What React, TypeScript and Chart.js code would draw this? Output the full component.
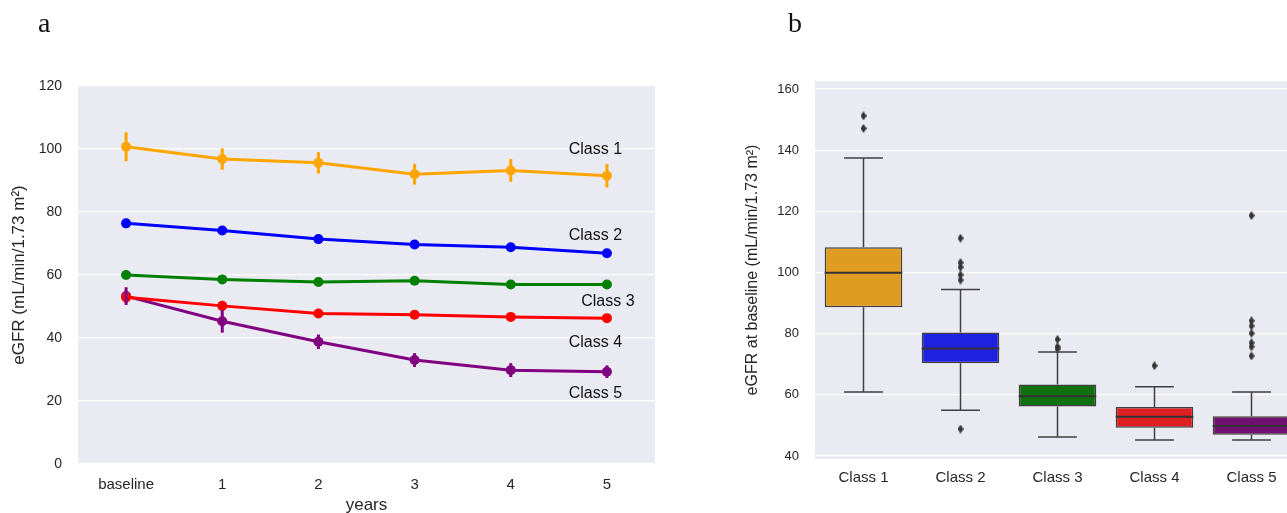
import React, { useEffect, useRef } from 'react';
import { Chart, registerables } from 'chart.js';

Chart.register(...registerables);

// ---------- Panel a: eGFR trajectories ----------
const years = ['baseline', '1', '2', '3', '4', '5'];
const classNames = ['Class 1', 'Class 2', 'Class 3', 'Class 4', 'Class 5'];
const lineColors = ['#FFA500', '#0000FF', '#008000', '#FF0000', '#800080'];

const class1 = [100.7, 96.8, 95.6, 92.0, 93.2, 91.5];
const class1Err = [4.6, 3.4, 3.4, 3.3, 3.6, 3.7];
const class2 = [76.4, 74.1, 71.4, 69.7, 68.8, 66.9];
const class2Err = [1.4, 1.0, 1.0, 1.0, 1.0, 1.3];
const class3 = [60.0, 58.6, 57.8, 58.2, 57.0, 57.0];
const class3Err = [0.8, 0.8, 0.8, 0.8, 0.8, 0.8];
const class4 = [52.9, 50.2, 47.8, 47.4, 46.7, 46.3];
const class4Err = [1.7, 1.0, 1.0, 0.9, 0.9, 0.9];
const class5 = [53.3, 45.3, 38.8, 33.0, 29.8, 29.3];
const class5Err = [2.8, 3.6, 2.3, 2.2, 2.2, 2.0];

const lineTicks = [0, 20, 40, 60, 80, 100, 120];

// text annotations (category position, value)
const labelX = [4.88, 4.88, 5.01, 4.88, 4.88];
const labelY = [99.7, 72.4, 51.4, 38.4, 22.5];

// ---------- Panel b: eGFR at baseline box plot ----------
const boxColors = ['#DF9C20', '#2020DF', '#107010', '#DF2020', '#701070'];
const q1 = [88.6, 70.3, 56.2, 49.2, 46.9];
const median = [99.9, 75.1, 59.5, 52.8, 49.8];
const q3 = [108.2, 80.4, 63.4, 56.0, 53.0];
const whiskerLow = [60.9, 54.9, 46.2, 45.2, 45.2];
const whiskerHigh = [137.4, 94.4, 74.0, 62.6, 60.9];
const outliers1 = [151.2, 147.1];
const outliers2 = [111.2, 103.2, 101.7, 99.2, 97.5, 48.8];
const outliers3 = [78.1, 75.7, 75.0];
const outliers4 = [69.5];
const outliers5 = [118.6, 84.2, 82.5, 80.1, 77.0, 75.7, 72.7];
const boxTicks = [40, 60, 80, 100, 120, 140, 160];

const FONT = "'Liberation Sans', Arial, Helvetica, sans-serif";
const TEXT = '#262626';
const BG = '#EAEAF2';

const bgPlugin = {
  id: 'plotBg',
  beforeDraw(chart: any) {
    const { ctx, chartArea: a } = chart;
    ctx.save();
    ctx.fillStyle = BG;
    ctx.fillRect(a.left, a.top, a.right - a.left, a.bottom - a.top);
    ctx.restore();
  },
};

function makeThinDiamond(): HTMLCanvasElement {
  const c = document.createElement('canvas');
  c.width = 6;
  c.height = 9;
  const g = c.getContext('2d') as CanvasRenderingContext2D;
  g.fillStyle = '#333333';
  g.beginPath();
  g.moveTo(3, 0);
  g.lineTo(6, 4.5);
  g.lineTo(3, 9);
  g.lineTo(0, 4.5);
  g.closePath();
  g.fill();
  return c;
}

function LineChart() {
  const ref = useRef<HTMLCanvasElement>(null);
  useEffect(() => {
    const series = [class1, class2, class3, class4, class5];
    const errs = [class1Err, class2Err, class3Err, class4Err, class5Err];

    const errPlugin = {
      id: 'errBars',
      afterDatasetsDraw(chart: any) {
        const { ctx } = chart;
        const xs = chart.scales.x;
        const ys = chart.scales.y;
        ctx.save();
        ctx.lineWidth = 3;
        ctx.lineCap = 'butt';
        series.forEach((s, d) => {
          ctx.strokeStyle = lineColors[d];
          s.forEach((v, i) => {
            const x = xs.getPixelForValue(i);
            ctx.beginPath();
            ctx.moveTo(x, ys.getPixelForValue(v - errs[d][i]));
            ctx.lineTo(x, ys.getPixelForValue(v + errs[d][i]));
            ctx.stroke();
          });
        });
        ctx.fillStyle = '#111';
        ctx.font = `16px ${FONT}`;
        ctx.textAlign = 'center';
        ctx.textBaseline = 'middle';
        classNames.forEach((name, k) => {
          ctx.fillText(name, xs.getPixelForValue(labelX[k]), ys.getPixelForValue(labelY[k]));
        });
        ctx.restore();
      },
    };

    const chart = new Chart(ref.current as HTMLCanvasElement, {
      type: 'line',
      data: {
        labels: years,
        datasets: series.map((s, d) => ({
          label: classNames[d],
          data: s,
          borderColor: lineColors[d],
          backgroundColor: lineColors[d],
          borderWidth: 3,
          pointRadius: 5,
          pointBorderWidth: 0,
          tension: 0,
        })),
      },
      options: {
        responsive: false,
        animation: false,
        events: [],
        layout: { padding: { top: 86, right: 25, left: 0, bottom: 0 } },
        plugins: { legend: { display: false }, tooltip: { enabled: false } },
        scales: {
          x: {
            type: 'category',
            offset: true,
            grid: { display: false, drawTicks: false },
            border: { display: false },
            ticks: { color: TEXT, font: { family: FONT, size: 15 }, padding: 12 },
            title: {
              display: true,
              text: 'years',
              color: TEXT,
              font: { family: FONT, size: 17 },
              padding: { top: 0, bottom: 4 },
            },
            afterFit(scale: any) {
              scale.height = 56;
            },
          },
          y: {
            min: 0,
            max: 120,
            afterBuildTicks(scale: any) {
              scale.ticks = lineTicks.map((v) => ({ value: v }));
            },
            grid: { color: '#FFFFFF', lineWidth: 1.2, drawTicks: false },
            border: { display: false },
            ticks: { color: TEXT, font: { family: FONT, size: 14 }, padding: 16 },
            title: {
              display: true,
              text: 'eGFR (mL/min/1.73 m²)',
              color: TEXT,
              font: { family: FONT, size: 17 },
              padding: { top: 9, bottom: 0 },
            },
            afterFit(scale: any) {
              scale.width = 78;
            },
          },
        },
      },
      plugins: [bgPlugin, errPlugin],
    } as any);
    return () => chart.destroy();
  }, []);
  return <canvas ref={ref} width={680} height={520} style={{ position: 'absolute', left: 0, top: 0 }} />;
}

function BoxChart() {
  const ref = useRef<HTMLCanvasElement>(null);
  useEffect(() => {
    const outlierSets = [outliers1, outliers2, outliers3, outliers4, outliers5];
    const outlierData: { x: string; y: number }[] = [];
    outlierSets.forEach((arr, i) => arr.forEach((v) => outlierData.push({ x: classNames[i], y: v })));
    const diamond = makeThinDiamond();

    const boxPlugin = {
      id: 'boxParts',
      afterDatasetsDraw(chart: any) {
        const { ctx } = chart;
        const xs = chart.scales.x;
        const ys = chart.scales.y;
        const meta = chart.getDatasetMeta(0);
        ctx.save();
        classNames.forEach((_, i) => {
          const x = xs.getPixelForValue(i);
          const bw = meta.data[i] ? meta.data[i].width : 78;
          const cap = bw / 4;
          const yq1 = ys.getPixelForValue(q1[i]);
          const yq3 = ys.getPixelForValue(q3[i]);
          const ylo = ys.getPixelForValue(whiskerLow[i]);
          const yhi = ys.getPixelForValue(whiskerHigh[i]);
          const ym = ys.getPixelForValue(median[i]);
          ctx.strokeStyle = '#404040';
          ctx.lineWidth = 1.5;
          ctx.beginPath();
          ctx.moveTo(x, yq3);
          ctx.lineTo(x, yhi);
          ctx.moveTo(x - cap, yhi);
          ctx.lineTo(x + cap, yhi);
          ctx.moveTo(x, yq1);
          ctx.lineTo(x, ylo);
          ctx.moveTo(x - cap, ylo);
          ctx.lineTo(x + cap, ylo);
          ctx.stroke();
          ctx.beginPath();
          ctx.lineWidth = 2;
          ctx.strokeStyle = '#333333';
          ctx.moveTo(x - bw / 2, ym);
          ctx.lineTo(x + bw / 2, ym);
          ctx.stroke();
        });
        ctx.restore();
      },
    };

    const chart = new Chart(ref.current as HTMLCanvasElement, {
      type: 'bar',
      data: {
        labels: classNames,
        datasets: [
          {
            label: 'box',
            data: q1.map((v, i) => [v, q3[i]]),
            backgroundColor: boxColors,
            borderColor: '#404040',
            borderWidth: 1.5,
            borderSkipped: false,
            barPercentage: 0.8,
            categoryPercentage: 1,
          },
          {
            type: 'line',
            label: 'outliers',
            data: outlierData,
            showLine: false,
            pointStyle: diamond,
            pointRadius: 4,
            pointBorderWidth: 0,
            backgroundColor: '#333333',
            borderColor: '#333333',
          },
        ],
      },
      options: {
        responsive: false,
        animation: false,
        events: [],
        layout: { padding: { top: 81, right: 40, left: 0, bottom: 0 } },
        plugins: { legend: { display: false }, tooltip: { enabled: false } },
        scales: {
          x: {
            type: 'category',
            offset: true,
            grid: { display: false, drawTicks: false },
            border: { display: false },
            ticks: { color: TEXT, font: { family: FONT, size: 15 }, padding: 10 },
            afterFit(scale: any) {
              scale.height = 61;
            },
          },
          y: {
            min: 39.0,
            max: 162.6,
            afterBuildTicks(scale: any) {
              scale.ticks = boxTicks.map((v) => ({ value: v }));
            },
            grid: { color: '#FFFFFF', lineWidth: 1.2, drawTicks: false },
            border: { display: false },
            ticks: { color: TEXT, font: { family: FONT, size: 13 }, padding: 16 },
            title: {
              display: true,
              text: 'eGFR at baseline (mL/min/1.73 m²)',
              color: TEXT,
              font: { family: FONT, size: 16 },
              padding: { top: 43, bottom: 0 },
            },
            afterFit(scale: any) {
              scale.width = 115;
            },
          },
        },
      },
      plugins: [bgPlugin, boxPlugin],
    } as any);
    return () => chart.destroy();
  }, []);
  return <canvas ref={ref} width={640} height={520} style={{ position: 'absolute', left: 700, top: 0 }} />;
}

const panelLabel: React.CSSProperties = {
  position: 'absolute',
  top: 9,
  fontFamily: "'Liberation Serif', 'Times New Roman', serif",
  fontSize: 28,
  lineHeight: '28px',
  color: '#111',
};

export default function App() {
  return (
    <div
      style={{
        position: 'absolute',
        left: 0,
        top: 0,
        width: 1287,
        height: 513,
        overflow: 'hidden',
        background: '#FFFFFF',
      }}
    >
      <LineChart />
      <BoxChart />
      <div style={{ ...panelLabel, left: 38 }}>a</div>
      <div style={{ ...panelLabel, left: 788 }}>b</div>
    </div>
  );
}
